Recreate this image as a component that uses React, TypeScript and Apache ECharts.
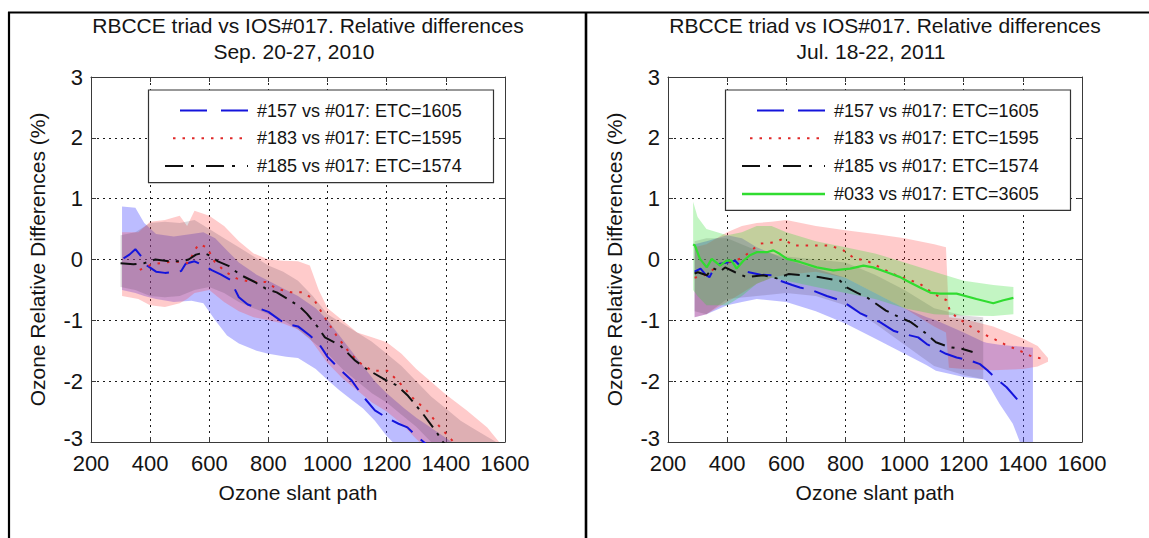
import React, { useEffect, useRef } from "react";
import * as echarts from "echarts";

// ---------- Sep. 20-27, 2010 ----------
const sep157X = [310, 330, 350, 370, 390, 420, 450, 480, 505, 520, 550, 580, 610, 640, 670, 700, 730, 760, 800, 840, 870, 900, 940, 970, 1000, 1040, 1080, 1120, 1160, 1200, 1240, 1270, 1300, 1330, 1360];
const sep157Y = [0.02, 0.08, 0.17, 0.05, -0.1, -0.2, -0.22, -0.21, -0.19, -0.07, -0.03, -0.1, -0.18, -0.25, -0.33, -0.62, -0.74, -0.79, -0.86, -1.0, -1.07, -1.1, -1.25, -1.38, -1.6, -1.8, -1.98, -2.25, -2.48, -2.6, -2.7, -2.76, -2.9, -3.02, -3.15];
const sep157BandX = [305, 350, 380, 420, 480, 540, 580, 620, 660, 700, 760, 800, 860, 900, 960, 1000, 1040, 1080, 1120, 1160, 1200, 1260, 1300, 1360, 1420];
const sep157Lo = [-0.5, -0.55, -0.6, -0.65, -0.7, -0.68, -0.72, -1.0, -1.25, -1.38, -1.5, -1.55, -1.6, -1.62, -1.8, -1.98, -2.15, -2.3, -2.45, -2.65, -2.9, -3.2, -3.4, -3.6, -3.8];
const sep157Hi = [0.87, 0.85, 0.6, 0.42, 0.38, 0.42, 0.45, 0.35, 0.15, -0.05, -0.25, -0.35, -0.5, -0.6, -0.8, -1.0, -1.25, -1.5, -1.75, -2.0, -2.2, -2.45, -2.6, -2.8, -3.0];

const sep183X = [365, 405, 450, 480, 530, 550, 565, 592, 617, 654, 692, 741, 791, 828, 878, 915, 953, 990, 1030, 1077, 1115, 1152, 1202, 1239, 1289, 1339, 1376, 1426, 1470];
const sep183Y = [-0.17, -0.08, -0.05, -0.03, -0.06, 0.15, 0.25, 0.2, -0.03, -0.2, -0.31, -0.37, -0.37, -0.48, -0.54, -0.54, -0.65, -0.95, -1.25, -1.55, -1.72, -1.83, -1.83, -2.0, -2.28, -2.5, -2.73, -3.0, -3.2];
const sep183BandX = [305, 360, 400, 450, 500, 525, 550, 600, 650, 700, 750, 800, 850, 900, 940, 970, 1000, 1050, 1100, 1150, 1200, 1250, 1300, 1400, 1470, 1540, 1580];
const sep183Lo = [-0.6, -0.65, -0.75, -0.78, -0.72, -0.65, -0.55, -0.5, -0.7, -0.85, -0.95, -1.0, -1.05, -1.15, -1.3, -1.5, -1.7, -1.95, -2.15, -2.35, -2.5, -2.7, -2.95, -3.4, -3.7, -4.0, -4.1];
const sep183Hi = [0.45, 0.45, 0.62, 0.65, 0.72, 0.55, 0.8, 0.72, 0.55, 0.3, 0.1, 0.0, -0.02, -0.03, -0.1, -0.5, -0.8, -1.0, -1.2, -1.28, -1.36, -1.55, -1.8, -2.22, -2.48, -2.76, -3.0];

const sep185X = [300, 343, 380, 418, 468, 505, 530, 555, 580, 604, 629, 667, 704, 754, 791, 828, 866, 907, 930, 965, 991, 1042, 1093, 1132, 1188, 1234, 1272, 1323, 1369, 1386, 1420];
const sep185Y = [-0.06, -0.08, -0.06, 0.0, -0.03, -0.03, 0.0, 0.08, 0.11, 0.06, -0.03, -0.11, -0.25, -0.37, -0.48, -0.54, -0.65, -0.78, -0.89, -1.1, -1.28, -1.41, -1.66, -1.8, -1.96, -2.07, -2.24, -2.54, -2.84, -2.98, -3.15];
const sep185BandX = [300, 350, 400, 450, 500, 550, 600, 650, 700, 750, 800, 850, 900, 950, 1000, 1050, 1100, 1150, 1200, 1250, 1300, 1350, 1400, 1450, 1500, 1570];
const sep185Lo = [-0.45, -0.5, -0.6, -0.62, -0.6, -0.5, -0.45, -0.55, -0.7, -0.8, -0.9, -1.0, -1.15, -1.35, -1.55, -1.8, -2.0, -2.2, -2.35, -2.55, -2.75, -3.0, -3.2, -3.35, -3.5, -3.6];
const sep185Hi = [0.4, 0.45, 0.6, 0.62, 0.6, 0.65, 0.5, 0.35, 0.2, 0.05, -0.1, -0.2, -0.35, -0.6, -0.9, -1.05, -1.2, -1.35, -1.55, -1.75, -2.0, -2.25, -2.45, -2.65, -2.8, -3.0];

// ---------- Jul. 18-22, 2011 ----------
const jul157X = [290, 310, 327, 340, 364, 400, 427, 463, 513, 550, 579, 620, 646, 690, 737, 782, 810, 849, 880, 917, 962, 995, 1046, 1075, 1108, 1140, 1176, 1221, 1255, 1280, 1306, 1345, 1390];
const jul157Y = [-0.2, -0.15, -0.25, -0.29, -0.08, -0.05, -0.02, -0.2, -0.25, -0.26, -0.35, -0.42, -0.46, -0.51, -0.6, -0.67, -0.75, -0.88, -0.95, -1.03, -1.17, -1.22, -1.28, -1.39, -1.47, -1.55, -1.61, -1.66, -1.72, -1.82, -1.94, -2.1, -2.35];
const jul157BandX = [290, 330, 400, 450, 500, 600, 700, 800, 900, 1000, 1075, 1106, 1200, 1266, 1277, 1321, 1366, 1390, 1434];
const jul157Lo = [-0.95, -0.9, -0.75, -0.7, -0.65, -0.7, -0.85, -1.05, -1.3, -1.55, -1.74, -1.83, -1.93, -1.97, -2.0, -2.37, -2.7, -3.0, -3.4];
const jul157Hi = [0.25, 0.3, 0.4, 0.35, 0.2, 0.0, -0.15, -0.3, -0.55, -0.8, -0.95, -1.0, -1.2, -1.35, -1.37, -1.4, -1.42, -1.43, -1.45];

const jul183X = [290, 330, 370, 400, 450, 490, 511, 556, 590, 624, 680, 748, 793, 830, 872, 917, 962, 1007, 1052, 1097, 1142, 1153, 1176, 1210, 1255, 1300, 1345, 1390, 1424, 1463, 1475];
const jul183Y = [-0.3, -0.25, -0.1, -0.05, 0.02, 0.18, 0.26, 0.28, 0.34, 0.23, 0.23, 0.23, 0.15, 0.02, -0.02, -0.13, -0.24, -0.32, -0.4, -0.56, -0.67, -0.84, -0.95, -1.06, -1.2, -1.3, -1.41, -1.5, -1.58, -1.63, -1.64];
const jul183BandX = [290, 330, 400, 450, 500, 550, 600, 700, 800, 900, 1000, 1100, 1140, 1150, 1200, 1300, 1400, 1450, 1485];
const jul183Lo = [-0.95, -0.9, -0.7, -0.55, -0.4, -0.3, -0.25, -0.2, -0.3, -0.55, -0.8, -1.1, -1.2, -1.78, -1.8, -1.82, -1.8, -1.76, -1.68];
const jul183Hi = [0.2, 0.25, 0.45, 0.55, 0.6, 0.62, 0.65, 0.55, 0.48, 0.42, 0.35, 0.25, 0.2, -0.95, -0.98, -1.1, -1.3, -1.42, -1.62];

const jul185X = [290, 301, 331, 352, 376, 393, 427, 466, 522, 568, 607, 657, 714, 782, 804, 840, 872, 937, 983, 1021, 1061, 1106, 1151, 1196, 1230];
const jul185Y = [-0.23, -0.21, -0.26, -0.14, -0.2, -0.13, -0.21, -0.29, -0.26, -0.31, -0.24, -0.26, -0.29, -0.35, -0.46, -0.55, -0.62, -0.84, -0.95, -1.03, -1.17, -1.36, -1.44, -1.47, -1.52];
const jul185BandX = [290, 330, 400, 500, 600, 700, 800, 900, 1000, 1100, 1200, 1266];
const jul185Lo = [-0.85, -0.9, -0.65, -0.6, -0.55, -0.6, -0.75, -1.05, -1.4, -1.75, -1.9, -1.97];
const jul185Hi = [0.3, 0.35, 0.35, 0.15, 0.05, 0.0, -0.05, -0.25, -0.5, -0.8, -0.92, -0.95];

const jul033X = [285, 291, 308, 331, 348, 376, 398, 415, 432, 455, 477, 500, 534, 556, 579, 602, 646, 703, 759, 816, 861, 894, 940, 985, 1007, 1052, 1090, 1120, 1176, 1243, 1300, 1334, 1368];
const jul033Y = [0.25, 0.23, 0.01, -0.13, 0.01, -0.1, -0.02, -0.02, -0.15, -0.02, 0.07, 0.12, 0.12, 0.15, 0.09, 0.01, -0.04, -0.13, -0.18, -0.15, -0.1, -0.13, -0.21, -0.29, -0.35, -0.46, -0.55, -0.56, -0.56, -0.65, -0.72, -0.67, -0.63];
const jul033BandX = [285, 300, 330, 400, 450, 500, 550, 600, 700, 800, 900, 1000, 1100, 1200, 1300, 1368];
const jul033Lo = [-0.5, -0.6, -0.75, -0.75, -0.6, -0.4, -0.3, -0.35, -0.45, -0.55, -0.65, -0.8, -0.9, -0.92, -0.93, -0.9];
const jul033Hi = [0.95, 0.7, 0.5, 0.4, 0.45, 0.55, 0.55, 0.45, 0.3, 0.2, 0.1, -0.05, -0.2, -0.35, -0.42, -0.45];

// ---------- texts ----------
const titleLine1 = "RBCCE triad vs IOS#017. Relative differences";
const panelDates = ["Sep. 20-27, 2010", "Jul. 18-22, 2011"];
const legendSep = ["#157 vs #017: ETC=1605", "#183 vs #017: ETC=1595", "#185 vs #017: ETC=1574"];
const legendJul = [...legendSep, "#033 vs #017: ETC=3605"];
const xName = "Ozone slant path";
const yName = "Ozone Relative Differences (%)";

// ---------- styling ----------
const FONT = '"Liberation Sans", Arial, Helvetica, sans-serif';
const AXIS = "#3a3a3a";
const TEXT = "#141414";
const GRID_LEFT = [91, 668];
const GRID_TOP = 77;
const GRID_W = 414;
const GRID_H = 365;
const Y_MIN = -3;

const STYLE = {
  s157: { color: "#1414dc", dash: [24, 11], legendDash: [27, 14], band: "rgba(70,70,255,0.36)", width: 2 },
  s183: { color: "#e02828", dash: [2.5, 7], legendDash: [2.5, 7], band: "rgba(255,70,70,0.28)", width: 2 },
  s185: { color: "#101010", dash: [16, 7, 3, 7], legendDash: [18, 8, 3, 12], band: "rgba(70,50,70,0.18)", width: 2 },
  s033: { color: "#30dc30", dash: "solid", legendDash: null, band: "rgba(40,220,40,0.28)", width: 2.2 },
};

function band(panel: number, xs: number[], lo: number[], hi: number[], fill: string) {
  return {
    type: "custom",
    xAxisIndex: panel * 2,
    yAxisIndex: panel * 2,
    clip: true,
    silent: true,
    z: 1,
    data: xs.map((x, i) => [x, lo[i], hi[i]]),
    encode: { x: 0, y: [1, 2] },
    renderItem: (params: any, api: any) => {
      if (params.dataIndex !== 0) return null;
      const top = xs.map((x, i) => api.coord([x, hi[i]]));
      const bottom = xs.map((x, i) => api.coord([x, lo[i]])).reverse();
      return {
        type: "polygon",
        shape: { points: top.concat(bottom) },
        style: { fill, stroke: "none" },
      };
    },
  };
}

function line(panel: number, xs: number[], ys: number[], st: any, z = 3) {
  return {
    type: "line",
    xAxisIndex: panel * 2,
    yAxisIndex: panel * 2,
    data: xs.map((x, i) => [x, ys[i]]),
    showSymbol: false,
    symbol: "none",
    clip: true,
    silent: true,
    z,
    lineStyle: { color: st.color, width: st.width, type: st.dash, cap: "butt" },
  };
}

function axesFor(panel: number) {
  const common = {
    gridIndex: panel,
    type: "value",
    axisLine: { show: true, onZero: false, lineStyle: { color: AXIS, width: 1 } },
    axisTick: { show: true, inside: true, length: 5, lineStyle: { color: AXIS, width: 1 } },
  };
  const gridDots = { show: true, lineStyle: { color: "#1a1a1a", width: 1, type: [2, 4] } };
  const xs = [
    {
      ...common,
      position: "bottom",
      min: 200,
      max: 1600,
      interval: 200,
      axisLabel: {
        color: TEXT,
        fontSize: 22,
        lineHeight: 18,
        fontFamily: FONT,
        margin: 12,
        formatter: (v: number) => String(v),
      },
      splitLine: gridDots,
      name: xName,
      nameLocation: "middle",
      nameGap: 40,
      nameTextStyle: { color: TEXT, fontSize: 21, fontFamily: FONT },
    },
    {
      ...common,
      position: "top",
      min: 200,
      max: 1600,
      interval: 200,
      axisLabel: { show: false },
      splitLine: { show: false },
    },
  ];
  const ys = [
    {
      ...common,
      position: "left",
      min: Y_MIN,
      max: 3,
      interval: 1,
      axisLabel: {
        color: TEXT,
        fontSize: 22,
        lineHeight: 17,
        fontFamily: FONT,
        margin: 8,
        // the bottom label sits a little higher so it clears the first x label
        formatter: (v: number) => (v === Y_MIN ? `{low|${v}}` : String(v)),
        rich: {
          low: { color: TEXT, fontSize: 22, lineHeight: 17, fontFamily: FONT, padding: [0, 0, 8, 0] },
        },
      },
      splitLine: gridDots,
      name: yName,
      nameLocation: "middle",
      nameGap: 43,
      nameTextStyle: { color: TEXT, fontSize: 21, fontFamily: FONT },
    },
    {
      ...common,
      position: "right",
      min: Y_MIN,
      max: 3,
      interval: 1,
      axisLabel: { show: false },
      splitLine: { show: false },
    },
  ];
  return { xs, ys };
}

function legendGraphics(panel: number, labels: string[], styles: any[]) {
  const left = GRID_LEFT[panel] + 57.5;
  const right = GRID_LEFT[panel] + GRID_W - 11.5;
  const top = 90;
  const rowGap = 27.8;
  const firstRow = 110.5;
  const bottom = firstRow + rowGap * (labels.length - 1) + 16.5;
  const els: any[] = [
    {
      type: "rect",
      shape: { x: left, y: top, width: right - left, height: bottom - top },
      style: { fill: "#fff", stroke: "#333", lineWidth: 1.2 },
      z: 10,
    },
  ];
  labels.forEach((label, i) => {
    const y = firstRow + i * rowGap;
    const st = styles[i];
    const x1 = st === STYLE.s157 ? left + 31.5 : st === STYLE.s183 ? left + 24.5 : left + 16.5;
    els.push({
      type: "line",
      shape: { x1, y1: y, x2: left + 99.5, y2: y },
      style: { stroke: st.color, lineWidth: st === STYLE.s033 ? 2.5 : 2, lineDash: st.legendDash || null },
      z: 11,
    });
    els.push({
      type: "text",
      style: {
        text: label,
        x: left + 108.5,
        y,
        fill: TEXT,
        fontSize: 18,
        fontFamily: FONT,
        align: "left",
        verticalAlign: "middle",
      },
      z: 11,
    });
  });
  return els;
}

function titleGraphics(panel: number) {
  const cx = GRID_LEFT[panel] + GRID_W / 2;
  const base = { fill: TEXT, fontSize: 21, fontFamily: FONT, align: "center", verticalAlign: "middle" };
  return [
    { type: "text", style: { ...base, text: titleLine1, x: cx + 10, y: 25 } },
    { type: "text", style: { ...base, text: panelDates[panel], x: cx - 4, y: 51 } },
  ];
}

function buildOption() {
  const a0 = axesFor(0);
  const a1 = axesFor(1);
  const series = [
    band(0, sep157BandX, sep157Lo, sep157Hi, STYLE.s157.band),
    band(0, sep183BandX, sep183Lo, sep183Hi, STYLE.s183.band),
    band(0, sep185BandX, sep185Lo, sep185Hi, STYLE.s185.band),
    line(0, sep157X, sep157Y, STYLE.s157),
    line(0, sep183X, sep183Y, STYLE.s183),
    line(0, sep185X, sep185Y, STYLE.s185, 4),

    band(1, jul157BandX, jul157Lo, jul157Hi, STYLE.s157.band),
    band(1, jul183BandX, jul183Lo, jul183Hi, STYLE.s183.band),
    band(1, jul185BandX, jul185Lo, jul185Hi, STYLE.s185.band),
    band(1, jul033BandX, jul033Lo, jul033Hi, STYLE.s033.band),
    line(1, jul157X, jul157Y, STYLE.s157),
    line(1, jul183X, jul183Y, STYLE.s183),
    line(1, jul185X, jul185Y, STYLE.s185, 4),
    line(1, jul033X, jul033Y, STYLE.s033, 5),
  ];

  const frame = [
    { type: "line", shape: { x1: 8, y1: 12.5, x2: 1149, y2: 12.5 }, style: { stroke: "#000", lineWidth: 2 } },
    { type: "line", shape: { x1: 9, y1: 12, x2: 9, y2: 538 }, style: { stroke: "#000", lineWidth: 2.2 } },
    { type: "line", shape: { x1: 586, y1: 12, x2: 586, y2: 538 }, style: { stroke: "#000", lineWidth: 2.6 } },
  ];

  return {
    animation: false,
    backgroundColor: "#fff",
    textStyle: { fontFamily: FONT },
    grid: GRID_LEFT.map((left) => ({ left, top: GRID_TOP, width: GRID_W, height: GRID_H, containLabel: false })),
    xAxis: [...a0.xs, ...a1.xs],
    yAxis: [...a0.ys, ...a1.ys],
    series,
    graphic: [
      ...frame,
      ...titleGraphics(0),
      ...titleGraphics(1),
      ...legendGraphics(0, legendSep, [STYLE.s157, STYLE.s183, STYLE.s185]),
      ...legendGraphics(1, legendJul, [STYLE.s157, STYLE.s183, STYLE.s185, STYLE.s033]),
    ],
  };
}

export default function App() {
  const ref = useRef<HTMLDivElement>(null);
  useEffect(() => {
    document.body.style.margin = "0";
    const chart = echarts.init(ref.current as HTMLDivElement, undefined, { renderer: "svg" });
    chart.setOption(buildOption() as any);
    return () => chart.dispose();
  }, []);
  return <div ref={ref} style={{ width: 1149, height: 538, background: "#fff" }} />;
}
